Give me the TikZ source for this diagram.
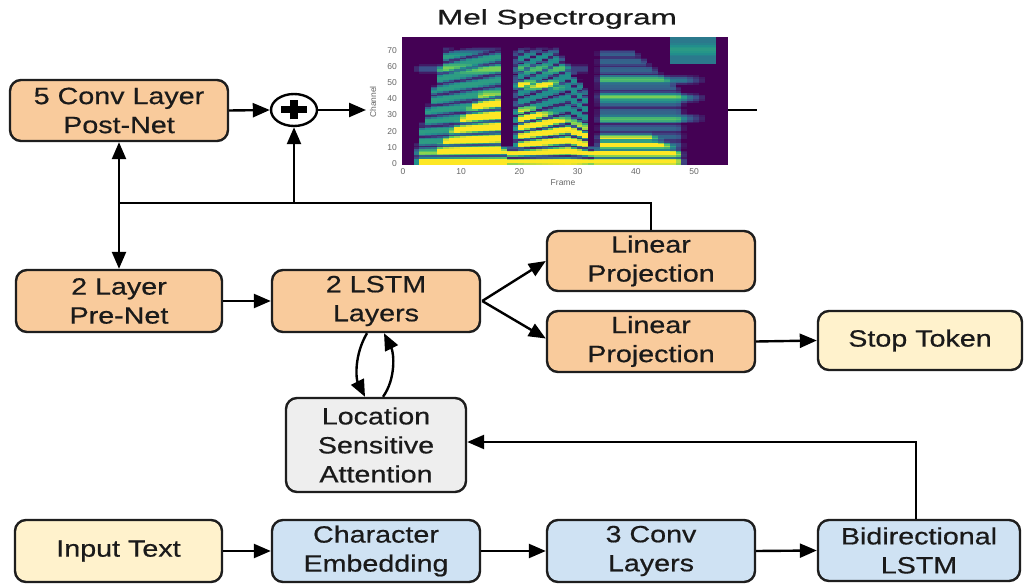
\documentclass[tikz,border=0pt]{standalone}
\usepackage{fontspec}
\setmainfont{Liberation Sans}
\newfontfamily\boxfont{Liberation Sans}[FakeStretch=1.22,FakeBold=0.6]
\newfontfamily\titlefont{Liberation Sans}[FakeStretch=1.5,FakeBold=0.8]
\usetikzlibrary{arrows.meta,shapes.geometric,calc}
% viridis colour stops
\definecolor{vir0}{HTML}{440154}
\definecolor{vir1}{HTML}{3B528B}
\definecolor{vir2}{HTML}{21918C}
\definecolor{vir3}{HTML}{5EC962}
\definecolor{vir4}{HTML}{FDE725}
\definecolor{boxorange}{HTML}{F9CB9C}
\definecolor{boxyellow}{HTML}{FFF2CC}
\definecolor{boxblue}{HTML}{CFE2F3}
\definecolor{boxgrey}{HTML}{EEEEEE}
\definecolor{edge}{HTML}{1E1E1E}
\definecolor{labeltext}{HTML}{1A1A1A}
\definecolor{ticktext}{HTML}{666666}
\begin{document}
\begin{tikzpicture}[x=1pt,y=-1pt,
  blk/.style={draw=edge, line width=2.4pt, rounded corners=11pt, align=center,
    inner sep=0pt, text=labeltext, font=\boxfont\fontsize{23.5}{29}\selectfont},
  orangebox/.style={blk, fill=boxorange},
  yellowbox/.style={blk, fill=boxyellow},
  bluebox/.style={blk, fill=boxblue},
  greybox/.style={blk, fill=boxgrey},
  conn/.style={draw=black, line width=2.4pt, -{Triangle[length=17pt,width=14pt]}},
  plainline/.style={draw=black, line width=2.4pt},
  ticklab/.style={text=ticktext, font=\fontsize{8.5}{10}\selectfont, inner sep=0pt},
]
\useasboundingbox (0,0) rectangle (1025,585);
\fill[white] (0,0) rectangle (1025,585);

% ---------- mel spectrogram plot ----------
\node[font=\titlefont\fontsize{21}{24}\selectfont, text=labeltext] (spectitle) at (557,19) {Mel Spectrogram};
\fill[vir0] (402,37) rectangle (728,165);
\foreach \f in {0,...,55}{
  \pgfmathsetmacro\sA{min(1,max(0,\f-1.5))*min(1,max(0,17-\f))}
  \pgfmathsetmacro\sB{min(1,max(0,\f-18.5))*min(1,max(0,32-\f))}
  \pgfmathsetmacro\sC{min(1,max(0,\f-32.8))*min(1,max(0,(48.3-\f)/1.5))}
  \pgfmathsetmacro\env{max(\sA,\sB,\sC)}
  \pgfmathsetmacro\lowE{min(1,max(0,\f-1.5))*min(1,max(0,(48.3-\f)/1.5))}
  \pgfmathsetmacro\cA{(\f>45.8)*(\f<53.9)*0.45}
  \pgfmathtruncatemacro\syl{1+(\f>17.8)+(\f>32.3)}
  \ifcase\syl\or
    \pgfmathsetmacro\tp{min(74,15+12*(\f-2))}
    \pgfmathsetmacro\yT{min(47,10+4.5*max(0,\f-5))}
    \def\bA{0.55}\def\bB{1.1}\def\dp{0.8}
    \pgfmathsetmacro\hh{6.4+0.08*(\f-5)}
    \let\fenv\sA
    \def\fa{0.25}\def\fca{60}\def\fb{0}\def\fcb{0}\def\fcamp{0}\def\fcc{0}
  \or
    \pgfmathsetmacro\tp{74-5*max(0,\f-26)}
    \pgfmathsetmacro\yT{38-1.2*max(0,\f-22)}
    \def\bA{0.5}\def\bB{1.05}\def\dp{0.9}
    \pgfmathsetmacro\hh{5.2+1.5*min(1,max(0,(\f-19)/9))-0.4*max(0,\f-28)}
    \let\fenv\sB
    \pgfmathsetmacro\fa{0.55*min(1,max(0,(27.5-\f)/2))}\def\fca{50}
    \def\fb{0.2}\def\fcb{60}\def\fcamp{0}\def\fcc{0}
  \or
    \pgfmathsetmacro\tp{74-3*max(0,\f-39)}
    \pgfmathsetmacro\yT{21-2*max(0,\f-42)}
    \def\bA{0.32}\def\bB{1.1}\def\dp{0.65}
    \def\hh{5.2}
    \pgfmathsetmacro\fenv{min(1,max(0,\f-32.8))*min(1,max(0,(52-\f)/4))}
    \def\fa{0.4}\def\fca{29}\def\fb{0.5}\def\fcb{42}\def\fcamp{0.4}\def\fcc{53}
  \fi
  \pgfmathsetmacro\act{\env+\lowE+\cA+\fenv}
  \ifdim\act pt>0.01pt
    \foreach \c in {0,...,79}{
      \pgfmathsetmacro\cc{\c+0.5}
      \pgfmathsetmacro\sd{0.5-0.5*cos((\cc-2)/\hh*360)}
      \pgfmathsetmacro\v{min(1,max(
        max(\env*min(1,max(0,(\tp-\cc)/5)),\lowE*min(1,max(0,(12-\cc)/3)))
        *min(1,(\bA+(\bB-\bA)*min(1,max(0,(\yT-\cc)/5)))*(1-\dp*\sd*\sd*\sd))
        +\fenv*(\fa*max(0,1-((\cc-\fca)/3)^2)+\fb*max(0,1-((\cc-\fcb)/3)^2)+\fcamp*max(0,1-((\cc-\fcc)/3)^2)),
        \cA*(\cc>62.5)*(0.9+0.3*max(0,1-((\cc-72)/4)^2))))}
      \ifdim\v pt>0.04pt
        \pgfmathtruncatemacro\seg{min(3,int(4*\v))}
        \pgfmathtruncatemacro\segn{\seg+1}
        \pgfmathtruncatemacro\pct{100-100*(4*\v-\seg)}
        \fill[color=vir\seg!\pct!vir\segn] ({402+5.82*\f},{163.4-1.6*\c}) rectangle +(5.9,1.65);
      \fi
    }
  \fi
}
% axis labels
\foreach \k in {0,...,7}{
  \pgfmathtruncatemacro\lab{10*\k}
  \node[ticklab, anchor=east] (ytick\k) at (397,{163.3-16.1*\k}) {\lab};
}
\foreach \k in {0,...,5}{
  \pgfmathtruncatemacro\lab{10*\k}
  \node[ticklab] (xtick\k) at ({403+58.2*\k},172) {\lab};
}
\node[ticklab] (framelab) at (563,183) {Frame};
\node[ticklab, rotate=90] (chanlab) at (373,102) {Channel};
\coordinate (specin) at (366,110);
\coordinate (specout) at (728,110);
\coordinate (specend) at (757,110);

% ---------- blocks ----------
\node[orangebox, minimum width=218pt, minimum height=61pt] (post) at (119,110.5) {5 Conv Layer\\Post-Net};
\node[draw=black, line width=2.4pt, ellipse, minimum width=46pt, minimum height=32pt, inner sep=0pt] (plus) at (294,110) {};
\draw[line width=7pt] ([xshift=-13pt]plus.center) -- ([xshift=13pt]plus.center);
\draw[line width=8pt] ([yshift=-9.5pt]plus.center) -- ([yshift=9.5pt]plus.center);

\node[orangebox, minimum width=206pt, minimum height=62pt] (pre) at (119,301) {2 Layer\\Pre-Net};
\node[orangebox, minimum width=208pt, minimum height=62pt] (lstm) at (376,301) {2 LSTM\\Layers};
\node[orangebox, minimum width=208pt, minimum height=60pt] (lp1) at (651,261) {Linear\\Projection};
\node[orangebox, minimum width=208pt, minimum height=61pt] (lp2) at (651,341.5) {Linear\\Projection};
\node[yellowbox, minimum width=204pt, minimum height=59pt] (stop) at (920,340.5) {Stop Token};
\node[greybox, minimum width=180pt, minimum height=94pt] (lsa) at (376,445) {Location\\Sensitive\\Attention};

\node[yellowbox, minimum width=207pt, minimum height=62pt] (input) at (118.5,551) {Input Text};
\node[bluebox, minimum width=208pt, minimum height=62pt] (char) at (376,551) {Character\\Embedding};
\node[bluebox, minimum width=208pt, minimum height=62pt] (conv) at (651,551) {3 Conv\\Layers};
\node[bluebox, minimum width=202pt, minimum height=61pt] (bilstm) at (919,550.5) {Bidirectional\\LSTM};

% ---------- connectors ----------
\draw[conn] (post.east) -- (plus.west);
\draw[conn] (plus.east) -- (specin);
\draw[plainline] (specout) -- (specend);

\coordinate (jn) at (119,203);
\draw[plainline] (lp1.north) |- (jn);
\draw[conn] (jn) -- (post.south);
\draw[conn] (jn) -- (pre.north);
\draw[conn] (plus.south |- jn) -- (plus.south);

\draw[conn] (pre.east) -- (lstm.west);
\draw[conn] ([xshift=1pt]lstm.east) -- (lp1.west);
\draw[conn] ([xshift=1pt]lstm.east) -- ([yshift=3pt]lp2.west);
\draw[conn] (lp2.east) -- (stop.west);

\draw[conn] ([xshift=-9pt]lstm.south) .. controls ([xshift=-22pt,yshift=-22pt]lstm.south) and ([xshift=-20pt,yshift=18pt]lsa.north) .. ([xshift=-11pt]lsa.north);
\draw[conn] ([xshift=7pt]lsa.north) .. controls ([xshift=20pt,yshift=18pt]lsa.north) and ([xshift=18pt,yshift=-20pt]lstm.south) .. ([xshift=8pt]lstm.south);

\draw[conn] ([xshift=-3pt]bilstm.north) |- ([yshift=3pt]lsa.east);

\draw[conn] (input.east) -- (char.west);
\draw[conn] (char.east) -- (conv.west);
\draw[conn] (conv.east) -- (bilstm.west);
\end{tikzpicture}
\end{document}
